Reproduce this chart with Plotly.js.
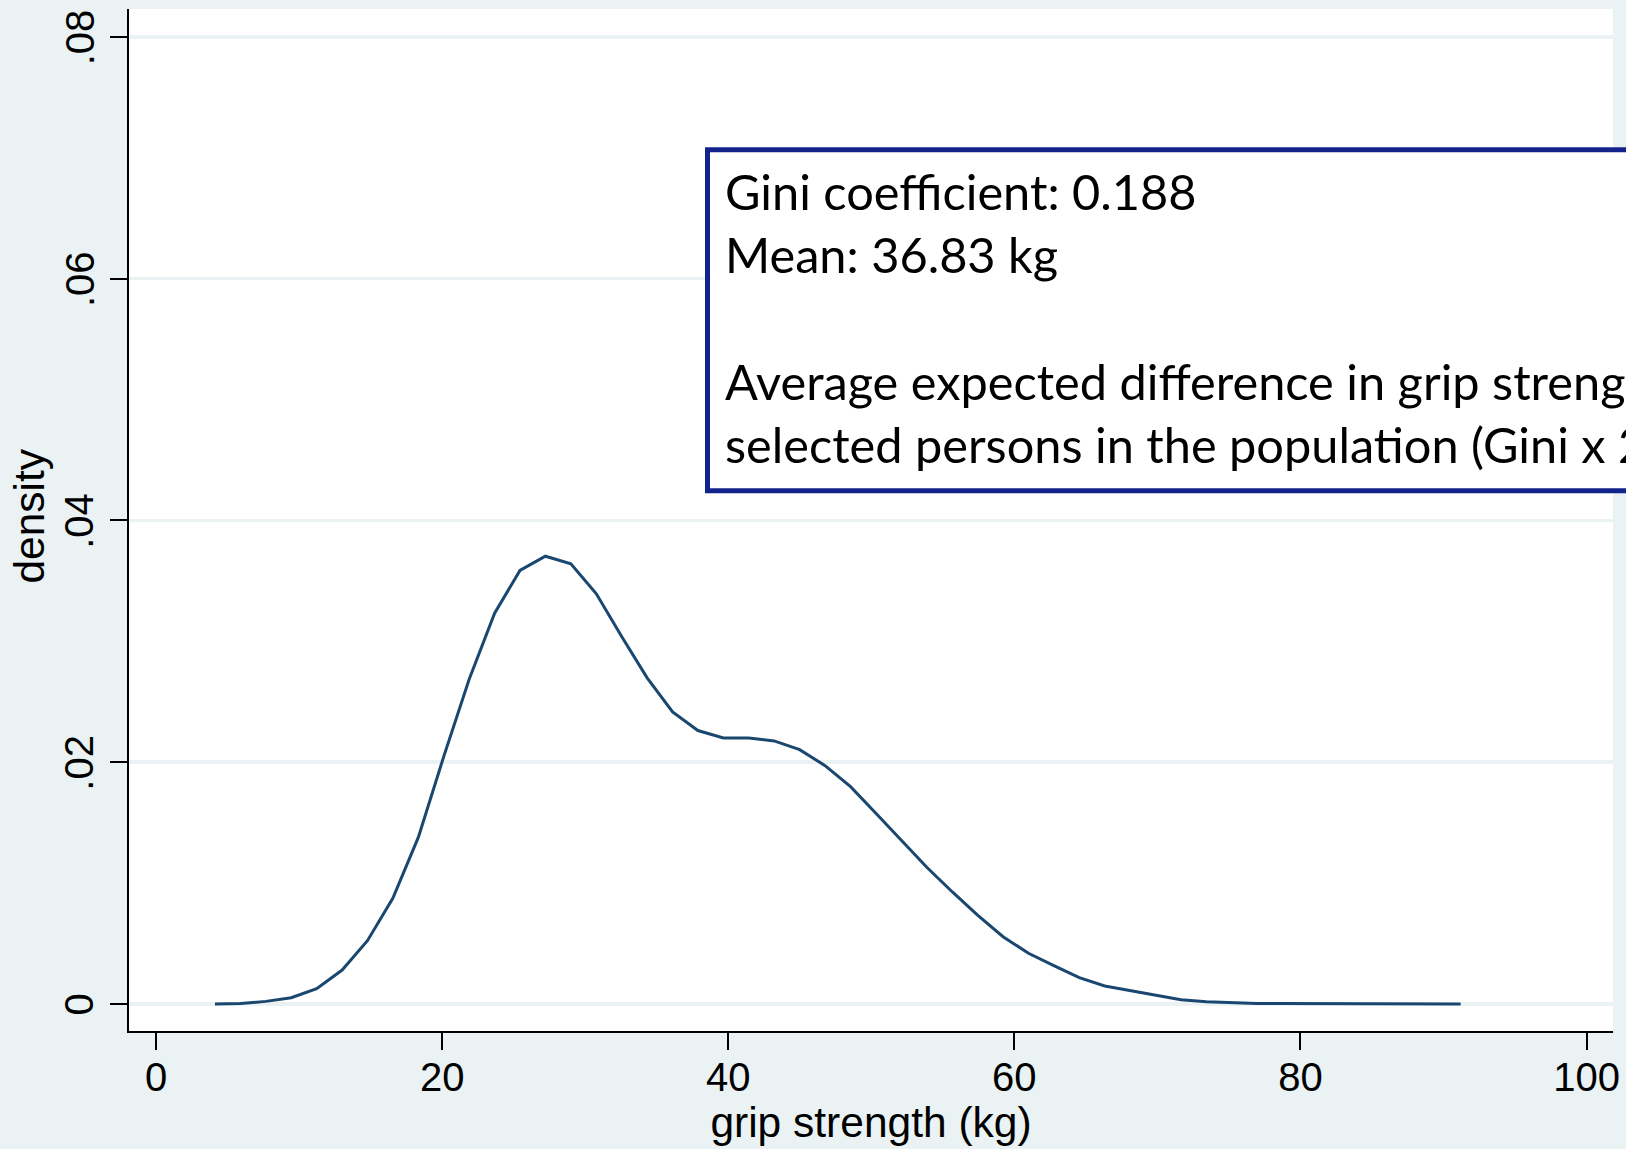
<!DOCTYPE html>
<html>
<head>
<meta charset="utf-8">
<script src="https://cdn.plot.ly/plotly-3.0.1.min.js"></script>
<style>
  html, body { margin: 0; padding: 0; background: #eaf2f3; }
  #chart { width: 1626px; height: 1149px; }
</style>
</head>
<body>
<div id="chart"></div>
<script>
// Kernel density estimate of grip strength (50 evaluation points)
const gripStrength = [4.12, 5.90, 7.67, 9.45, 11.23, 13.01, 14.78, 16.56, 18.34, 20.11,
  21.89, 23.67, 25.44, 27.22, 29.00, 30.78, 32.55, 34.33, 36.11, 37.88,
  39.66, 41.44, 43.21, 44.99, 46.77, 48.55, 50.32, 52.10, 53.88, 55.65,
  57.43, 59.21, 60.99, 62.76, 64.54, 66.32, 68.09, 69.87, 71.65, 73.43,
  75.20, 76.98, 78.76, 80.53, 82.31, 84.09, 85.87, 87.64, 89.42, 91.20];
const density = [0.00001, 0.00004, 0.00022, 0.00052, 0.00127, 0.00281, 0.00524, 0.00877, 0.01380, 0.02046,
  0.02686, 0.03233, 0.03586, 0.03704, 0.03641, 0.03393, 0.03040, 0.02698, 0.02416, 0.02262,
  0.02201, 0.02201, 0.02176, 0.02104, 0.01972, 0.01798, 0.01578, 0.01357, 0.01131, 0.00929,
  0.00736, 0.00557, 0.00420, 0.00317, 0.00218, 0.00149, 0.00113, 0.00074, 0.00036, 0.00019,
  0.00011, 0.00005, 0.00004, 0.00004, 0.00003, 0.00001, 0.00000, 0.00000, 0.00000, 0.00000];

const xTickValues = [0, 20, 40, 60, 80, 100];
const xTickLabels = ['0', '20', '40', '60', '80', '100'];
const yTickValues = [0, 0.02, 0.04, 0.06, 0.08];
const yTickLabels = ['0', '.02', '.04', '.06', '.08'];

const xTitle = 'grip strength (kg)';
const yTitle = 'density';
const boxLines = [
  'Gini coefficient: 0.188',
  'Mean: 36.83 kg',
  '',
  'Average expected difference in grip strength between two randomly',
  'selected persons in the population (Gini x 2 x mean)'
];

const axisFont = { family: '"Liberation Sans", Arial, sans-serif', size: 40, color: '#000000' };
const titleFont = { family: '"Liberation Sans", Arial, sans-serif', size: 42.5, color: '#000000' };

const trace = {
  x: gripStrength,
  y: density,
  type: 'scatter',
  mode: 'lines',
  line: { color: '#1a476f', width: 3 },
  hoverinfo: 'skip',
  showlegend: false
};

// Vertical y tick labels, placed at the tick values through the y scale
const yTickAnnotations = yTickValues.map((v, i) => ({
  xref: 'paper', yref: 'y',
  x: -0.0334, y: v,
  xanchor: 'center', yanchor: 'middle',
  textangle: -90,
  showarrow: false,
  borderpad: 0,
  text: yTickLabels[i],
  font: axisFont
}));

const layout = {
  width: 1626,
  height: 1149,
  paper_bgcolor: '#eaf2f3',
  plot_bgcolor: '#ffffff',
  margin: { l: 129, r: 13, t: 9, b: 118, pad: 0 },
  showlegend: false,
  xaxis: {
    range: [-1.89, 101.85],
    tickmode: 'array',
    tickvals: xTickValues,
    ticktext: xTickLabels,
    ticks: 'outside',
    ticklen: 17,
    tickwidth: 2,
    tickcolor: '#000000',
    ticklabelstandoff: -7,
    showline: true,
    linecolor: '#000000',
    linewidth: 2,
    showgrid: false,
    zeroline: false,
    tickfont: axisFont,
    title: { text: xTitle, font: titleFont, standoff: 9 },
    automargin: false
  },
  yaxis: {
    range: [-0.00223, 0.0823],
    tickmode: 'array',
    tickvals: yTickValues,
    ticktext: yTickLabels,
    showticklabels: false,
    ticks: 'outside',
    ticklen: 17,
    tickwidth: 2,
    tickcolor: '#000000',
    showline: true,
    linecolor: '#000000',
    linewidth: 2,
    showgrid: true,
    gridcolor: '#eaf2f3',
    gridwidth: 3.5,
    zeroline: false,
    automargin: false
  },
  shapes: [{
    type: 'rect',
    xref: 'paper', yref: 'paper',
    x0: 0.38983, x1: 1.07, y0: 0.52857, y1: 0.86233,
    fillcolor: '#ffffff',
    line: { color: '#13238c', width: 5 },
    layer: 'above'
  }],
  annotations: yTickAnnotations.concat([
    {
      xref: 'paper', yref: 'paper',
      x: -0.0677, y: 0.5039,
      xanchor: 'center', yanchor: 'middle',
      textangle: -90,
      showarrow: false,
      borderpad: 0,
      text: yTitle,
      font: titleFont
    },
    {
      xref: 'paper', yref: 'paper',
      x: 0.4005, y: 0.852,
      xanchor: 'left', yanchor: 'top',
      align: 'left',
      showarrow: false,
      text: boxLines.join('<br>'),
      font: { family: 'Lato, "Noto Sans", sans-serif', size: 48.7, color: '#000000' }
    }
  ])
};

Plotly.newPlot('chart', [trace], layout, { displayModeBar: false, staticPlot: true });
</script>
</body>
</html>
